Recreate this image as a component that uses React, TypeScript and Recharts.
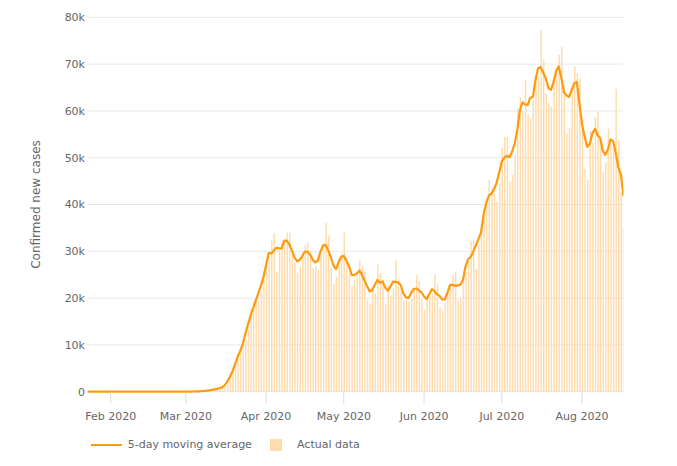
import React from 'react';
import { ComposedChart, Bar, Line, XAxis, YAxis, CartesianGrid } from 'recharts';

const startDate = '2020-01-23';

const actualCases: number[] = [
  // Jan 23-31
  0, 1, 0, 3, 0, 0, 0, 1, 1,
  // Feb
  0, 1, 0, 0, 3, 0, 0, 0, 0, 1, 0, 0, 1, 0, 0, 0, 0, 0, 0, 0, 2, 0, 0, 36, 0, 6, 1, 2, 8,
  // Mar
  8, 23, 20, 31, 70, 48, 115, 114, 198, 282, 401, 495, 610, 762, 750, 1140, 1534, 2636, 4566, 5847,
  7036, 9059, 10561, 11108, 13398, 17656, 19047, 19844, 19498, 21174, 25773,
  // Apr
  27032, 28949, 32387, 33905, 25602, 30104, 31704, 31866, 33956, 33866, 30033, 27546, 25252, 26745, 29764,
  31479, 31864, 29933, 26441, 26871, 25975, 28948, 31798, 36083, 33405, 26535, 23036, 24543, 27326, 29571,
  // May
  34042, 28733, 25210, 22453, 23976, 24666, 28102, 26906, 25643, 19712, 18617, 21924, 21126, 27254, 25337,
  23819, 18801, 22694, 20542, 22083, 28131, 24155, 22508, 19615, 19544, 19234, 19849, 21936, 25003, 23713, 19800,
  // Jun
  17600, 20195, 20400, 21000, 25018, 22897, 18017, 17239, 19150, 21006, 23067, 24969, 25580, 19536, 19962,
  23533, 25639, 27958, 32073, 32224, 26211, 31455, 34413, 38672, 39818, 45255, 43404, 42487, 40540, 44474,
  // Jul
  52048, 54496, 54442, 44699, 46327, 50580, 60510, 62918, 59876, 66625, 59252, 58346, 62259, 67632, 67404,
  77255, 71027, 63643, 61713, 60971, 67140, 69150, 71967, 73715, 65493, 55187, 56336, 65445, 69500, 68032, 67023,
  // Aug 1-17
  58407, 47511, 45302, 55701, 53158, 58621, 59755, 54017, 46935, 49038, 56174, 52875, 51999, 64601, 53798,
  42487, 35112,
];

const movingAverage: number[] = [
  // Jan 23-31
  1, 1, 1, 1, 1, 1, 0, 0, 1,
  // Feb
  1, 1, 1, 1, 1, 1, 1, 0, 0, 0, 0, 0, 0, 0, 0, 0, 0, 0, 0, 0, 0, 8, 8, 8, 9, 9, 3, 5, 8,
  // Mar
  12, 18, 30, 38, 57, 76, 109, 151, 222, 298, 397, 510, 604, 751, 959, 1364, 2125, 3145, 4324, 5829,
  7414, 8722, 10232, 12356, 14354, 16211, 17889, 19444, 21067, 22664, 24485,
  // Apr
  27063, 29609, 29575, 30189, 30740, 30636, 30646, 32299, 32285, 31453, 30131, 28688, 27868, 28157, 29021,
  29957, 29896, 29318, 28217, 27634, 28007, 29935, 31242, 31354, 30171, 28720, 26969, 26202, 27704, 28843,
  // May
  28976, 28002, 26883, 25008, 24881, 25221, 25859, 25006, 23796, 22560, 21404, 21727, 22852, 23892, 23267,
  23581, 22239, 21588, 22450, 23521, 23484, 23298, 22791, 21011, 20150, 20036, 21113, 21947, 22060, 21610, 21262,
  // Jun
  20342, 19799, 20843, 21902, 21466, 20834, 20464, 19662, 19696, 21086, 22754, 22832, 22623, 22716, 22850,
  23800, 26800, 28285, 28821, 29984, 31275, 32595, 34114, 37923, 40312, 41927, 42301, 43232, 44591, 46809,
  // Jul
  49200, 50032, 50402, 50109, 51312, 53007, 56042, 60102, 61836, 61403, 61272, 62823, 62979, 66579, 69115,
  69392, 68208, 66922, 64899, 64523, 66188, 68589, 69493, 67102, 64000, 63300, 63000, 64500, 65900, 66200, 61400,
  // Aug 1-17
  57100, 54500, 52300, 53000, 55200, 56200, 54800, 54200, 51500, 50600, 51800, 53900, 53500, 51000, 48000,
  46500, 41800,
];

const monthTickDates = ['2020-02-01', '2020-03-01', '2020-04-01', '2020-05-01', '2020-06-01', '2020-07-01', '2020-08-01'];
const monthTickLabels = ['Feb 2020', 'Mar 2020', 'Apr 2020', 'May 2020', 'Jun 2020', 'Jul 2020', 'Aug 2020'];
const yTicks = [0, 10000, 20000, 30000, 40000, 50000, 60000, 70000, 80000];
const yTickLabels = ['0', '10k', '20k', '30k', '40k', '50k', '60k', '70k', '80k'];

const seriesNames = { avg: '5-day moving average', actual: 'Actual data' };
const yAxisTitle = 'Confirmed new cases';

function buildDates(start: string, n: number): string[] {
  const [y, m, d] = start.split('-').map(Number);
  const base = Date.UTC(y, m - 1, d);
  const out: string[] = [];
  for (let i = 0; i < n; i++) {
    out.push(new Date(base + i * 86400000).toISOString().slice(0, 10));
  }
  return out;
}

const dates = buildDates(startDate, actualCases.length);
const data = dates.map((date, i) => ({ i, date, actual: actualCases[i], avg: movingAverage[i] }));
const xTicks = monthTickDates.map((d) => dates.indexOf(d));

const LINE_COLOR = '#ff9a0e';
const BAR_COLOR = '#ffdcae';
const TEXT_COLOR = '#666666';
const FONT = '"DejaVu Sans", Verdana, sans-serif';

export default function App() {
  return (
    <div style={{ position: 'relative', width: 661, height: 450, fontFamily: FONT }}>
      <ComposedChart
        width={661}
        height={450}
        data={data}
        margin={{ top: 9.3, right: 45.5, bottom: 36.3, left: 0 }}
        style={{ fontFamily: FONT }}
      >
        <CartesianGrid vertical={false} stroke="#e8e8e8" />
        <XAxis
          dataKey="i"
          type="number"
          domain={[0, data.length - 1]}
          ticks={xTicks}
          interval={0}
          tickFormatter={(v: number) => monthTickLabels[xTicks.indexOf(v)] ?? ''}
          axisLine={false}
          tickLine={{ stroke: '#dddddd' }}
          tickSize={12}
          tickMargin={8}
          height={30}
          tick={{ fill: TEXT_COLOR, fontSize: 11 }}
          allowDataOverflow
        />
        <YAxis
          type="number"
          domain={[0, 80000]}
          ticks={yTicks}
          interval={0}
          tickFormatter={(v: number) => yTickLabels[yTicks.indexOf(v)] ?? ''}
          axisLine={false}
          tickLine={false}
          tickSize={0}
          tickMargin={2.4}
          width={79.4}
          tick={{ fill: TEXT_COLOR, fontSize: 11 }}
          label={{
            value: yAxisTitle,
            angle: -90,
            position: 'center',
            dx: -11.5,
            style: { fill: TEXT_COLOR, fontSize: 12, textAnchor: 'middle' },
          }}
        />
        <Bar
          dataKey="actual"
          name={seriesNames.actual}
          fill={BAR_COLOR}
          barSize={1.5}
          isAnimationActive={false}
        />
        <Line
          dataKey="avg"
          name={seriesNames.avg}
          type="linear"
          stroke={LINE_COLOR}
          strokeWidth={2.2}
          strokeLinejoin="round"
          dot={false}
          activeDot={false}
          isAnimationActive={false}
        />
      </ComposedChart>
      <div style={{ position: 'absolute', left: 83, top: 436, height: 0 }}>
        <div style={{ position: 'absolute', left: 0, top: 0, width: 31, height: 2.2, background: LINE_COLOR }} />
      </div>
      <div
        style={{
          position: 'absolute',
          left: 119.7,
          top: 430,
          fontSize: 11,
          color: TEXT_COLOR,
          lineHeight: '14px',
          whiteSpace: 'nowrap',
        }}
      >
        {seriesNames.avg}
      </div>
      <div style={{ position: 'absolute', left: 262, top: 431, width: 11.5, height: 11.5, background: BAR_COLOR }} />
      <div
        style={{
          position: 'absolute',
          left: 289,
          top: 430,
          fontSize: 11,
          color: TEXT_COLOR,
          lineHeight: '14px',
          whiteSpace: 'nowrap',
        }}
      >
        {seriesNames.actual}
      </div>
    </div>
  );
}
